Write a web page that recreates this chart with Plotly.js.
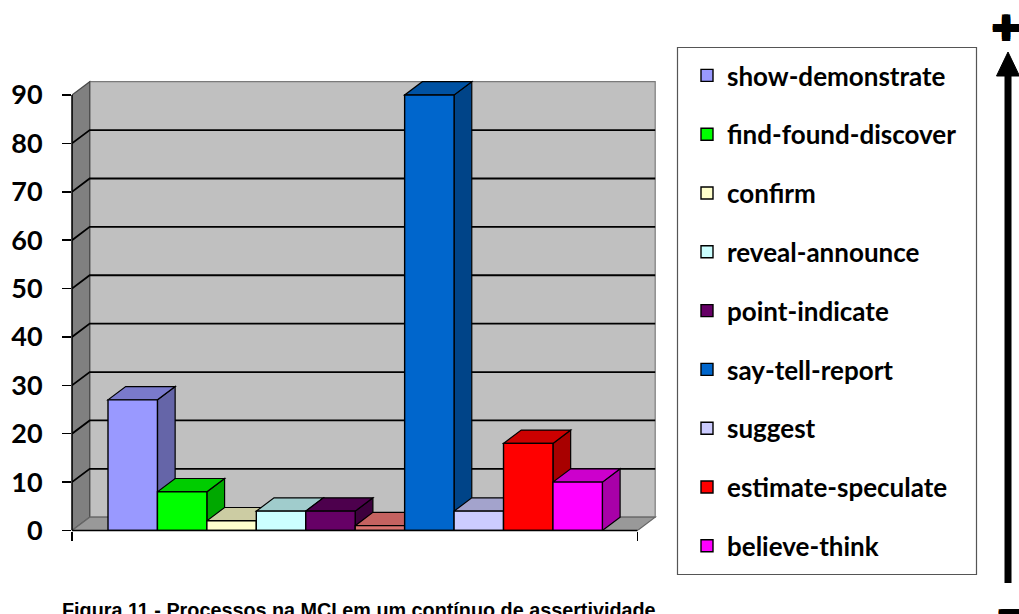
<!DOCTYPE html>
<html><head><meta charset="utf-8">
<script src="https://cdn.plot.ly/plotly-3.0.1.min.js"></script>
<style>html,body{margin:0;padding:0;background:#fff;}#chart{width:1019px;height:614px;}</style>
</head><body><div id="chart"></div>
<script>
// ---- data ----
const series = ['show-demonstrate','find-found-discover','confirm','reveal-announce','point-indicate','','say-tell-report','suggest','estimate-speculate','believe-think'];
const values = [27, 8, 2, 4, 4, 1, 90, 4, 18, 10];
const inLegend = [true, true, true, true, true, false, true, true, true, true];
const frontColors = ['#9999FF','#00FF00','#FFFFCC','#CCFFFF','#660066','#D97470','#0066CC','#CCCCFF','#FF0000','#FF00FF'];
const topColors   = ['#7A7ACC','#00CC00','#CCCCA3','#A0CCCC','#4D004D','#C46260','#0052A3','#A3A3CC','#CC0000','#CC00CC'];
const sideColors  = ['#6565A8','#00A800','#A8A885','#85A8A8','#3D003D','#A85050','#004488','#8787AA','#A80000','#A800A8'];
const yTickVals = [0,10,20,30,40,50,60,70,80,90];
const yMax = 90;
const caption = 'Figura 11 - Processos na MCI em um contínuo de assertividade';

// ---- layout geometry (pixels) ----
const W = 1019, H = 614;
const FL = 72, FR = 637.5, BASE = 530.5, TOP = 95;   // front plane
const DX = 17.7, DY = 13.3;                          // 3D depth offset
const EXTRA = 3;
const BAR_L = 108, BAR_R = 602.4;
const n = values.length;
const unitX = (BAR_R - BAR_L) / n;
const unitY = (BASE - TOP) / yMax;
const xMin = -0.5 - (BAR_L - FL) / unitX;
const xMax = (n - 0.5) + (FR - BAR_R) / unitX;
const ddx = DX / unitX, ddy = DY / unitY;
const xRangeR = xMax + (DX + EXTRA) / unitX;
const yRangeT = yMax + (DY + EXTRA) / unitY;
const px = v => v / W, py = v => 1 - v / H;

// ---- traces ----
const traces = series.map((s, i) => ({
  type: 'bar', x: [i], y: [values[i]], width: 1, name: s,
  showlegend: inLegend[i], legendgroup: 'g' + i,
  marker: {color: frontColors[i], line: {color: '#000', width: 1.4}},
  hoverinfo: 'skip'
}));

// ---- shapes ----
const shapes = [];
const pathPx = pts => 'M' + pts.map(p => px(p[0]) + ',' + py(p[1])).join('L') + 'Z';
const D = (o) => Object.assign({xref:'x', yref:'y', layer:'between'}, o);
// back wall
shapes.push(D({type:'rect', x0: xMin+ddx, x1: xMax+ddx, y0: ddy, y1: yMax+ddy,
  fillcolor:'#C0C0C0', line:{color:'#7a7a7a', width:1.2}}));
// left wall
shapes.push(D({type:'path', path:`M${xMin},0L${xMin+ddx},${ddy}L${xMin+ddx},${yMax+ddy}L${xMin},${yMax}Z`,
  fillcolor:'#808080', line:{color:'#4a4a4a', width:1.2}}));
// floor
shapes.push(D({type:'path', path:`M${xMin},0L${xMax},0L${xMax+ddx},${ddy}L${xMin+ddx},${ddy}Z`,
  fillcolor:'#999999', line:{color:'#666', width:1.2}}));
// gridlines (left wall diagonal + back wall)
yTickVals.slice(1, -1).forEach(v => {
  shapes.push(D({type:'path', path:`M${xMin},${v}L${xMin+ddx},${v+ddy}L${xMax+ddx},${v+ddy}`,
    line:{color:'#000', width:1.8}}));
});
// bar depth faces
values.forEach((v, i) => {
  const r = i + 0.5, l = i - 0.5;
  shapes.push(D({type:'path', path:`M${r},${v}L${r+ddx},${v+ddy}L${r+ddx},${ddy}L${r},0Z`,
    fillcolor: sideColors[i], line:{color:'#000', width:1.2}}));
  shapes.push(D({type:'path', path:`M${l},${v}L${r},${v}L${r+ddx},${v+ddy}L${l+ddx},${v+ddy}Z`,
    fillcolor: topColors[i], line:{color:'#000', width:1.2}}));
});
// front axis lines
shapes.push({type:'line', xref:'paper', yref:'y', layer:'above',
  x0: px(FL), x1: px(FL), y0: 0, y1: yMax, line:{color:'#000', width:1.5}});
shapes.push({type:'line', xref:'x', yref:'paper', layer:'above',
  x0: xMin, x1: xMax, y0: py(BASE), y1: py(BASE), line:{color:'#000', width:1.5}});
// legend box
shapes.push({type:'rect', xref:'paper', yref:'paper', layer:'below',
  x0: px(677.5), x1: px(976.5), y0: py(574.5), y1: py(47.5),
  fillcolor:'rgba(0,0,0,0)', line:{color:'#555', width:1.2}});
// arrow (scale of assertiveness)
shapes.push({type:'line', xref:'paper', yref:'paper', layer:'above',
  x0: px(1008), x1: px(1008), y0: py(583), y1: py(72), line:{color:'#000', width:7}});
shapes.push({type:'path', xref:'paper', yref:'paper', layer:'above',
  path: pathPx([[996.5, 76],[1008, 52],[1019.5, 76]]), fillcolor:'#000', line:{color:'#000', width:1}});

const thick = '2px 0 #000, -2px 0 #000, 0 2px #000, 0 -2px #000, 2px 2px #000, -2px -2px #000, 2px -2px #000, -2px 2px #000';
const annotations = [
  {text: caption, xref:'paper', yref:'paper', x: px(60), y: py(596.5), xanchor:'left', yanchor:'top',
   showarrow:false, font:{family:'Liberation Sans, Arial, sans-serif', size:19.8, color:'#000', weight:'bold'}},
  {text:'+', xref:'paper', yref:'paper', x: px(1006), y: py(26), xanchor:'center', yanchor:'middle',
   showarrow:false, font:{family:'DejaVu Sans, sans-serif', size:36, color:'#000', weight:'bold', shadow: thick}},
  {text:'−', xref:'paper', yref:'paper', x: px(1011), y: py(612), xanchor:'center', yanchor:'middle',
   showarrow:false, font:{family:'DejaVu Sans, sans-serif', size:34, color:'#000', weight:'bold', shadow: thick}}
];

const layout = {
  width: W, height: H, margin:{l:0, r:0, t:0, b:0},
  paper_bgcolor:'#fff', plot_bgcolor:'rgba(0,0,0,0)',
  barmode:'overlay', showlegend:true,
  font:{family:'Lato, sans-serif', color:'#000'},
  xaxis:{domain:[px(FL), px(FR + DX + EXTRA)], range:[xMin, xRangeR],
         showgrid:false, zeroline:false, showline:false,
         ticks:'outside', tickvals:[xMin, xMax], ticklen:9, tickwidth:1.5, tickcolor:'#000',
         showticklabels:false, fixedrange:true},
  yaxis:{domain:[py(BASE), py(TOP - DY - EXTRA)], range:[0, yRangeT],
         tickvals: yTickVals, ticks:'outside', ticklen:9, tickwidth:1.5, tickcolor:'#000',
         showgrid:false, zeroline:false, showline:false, ticklabelstandoff:14,
         tickfont:{family:'Lato, sans-serif', size:27, color:'#000', weight:'bold'}, fixedrange:true},
  legend:{x: px(687), xanchor:'left', y: py(52), yanchor:'top', bgcolor:'rgba(0,0,0,0)',
          borderwidth:0, tracegroupgap:22, traceorder:'grouped',
          font:{family:'Lato, sans-serif', size:26, color:'#000', weight:'bold'}},
  shapes, annotations
};

Plotly.newPlot('chart', traces, layout, {staticPlot:true, displayModeBar:false});
</script></body></html>
